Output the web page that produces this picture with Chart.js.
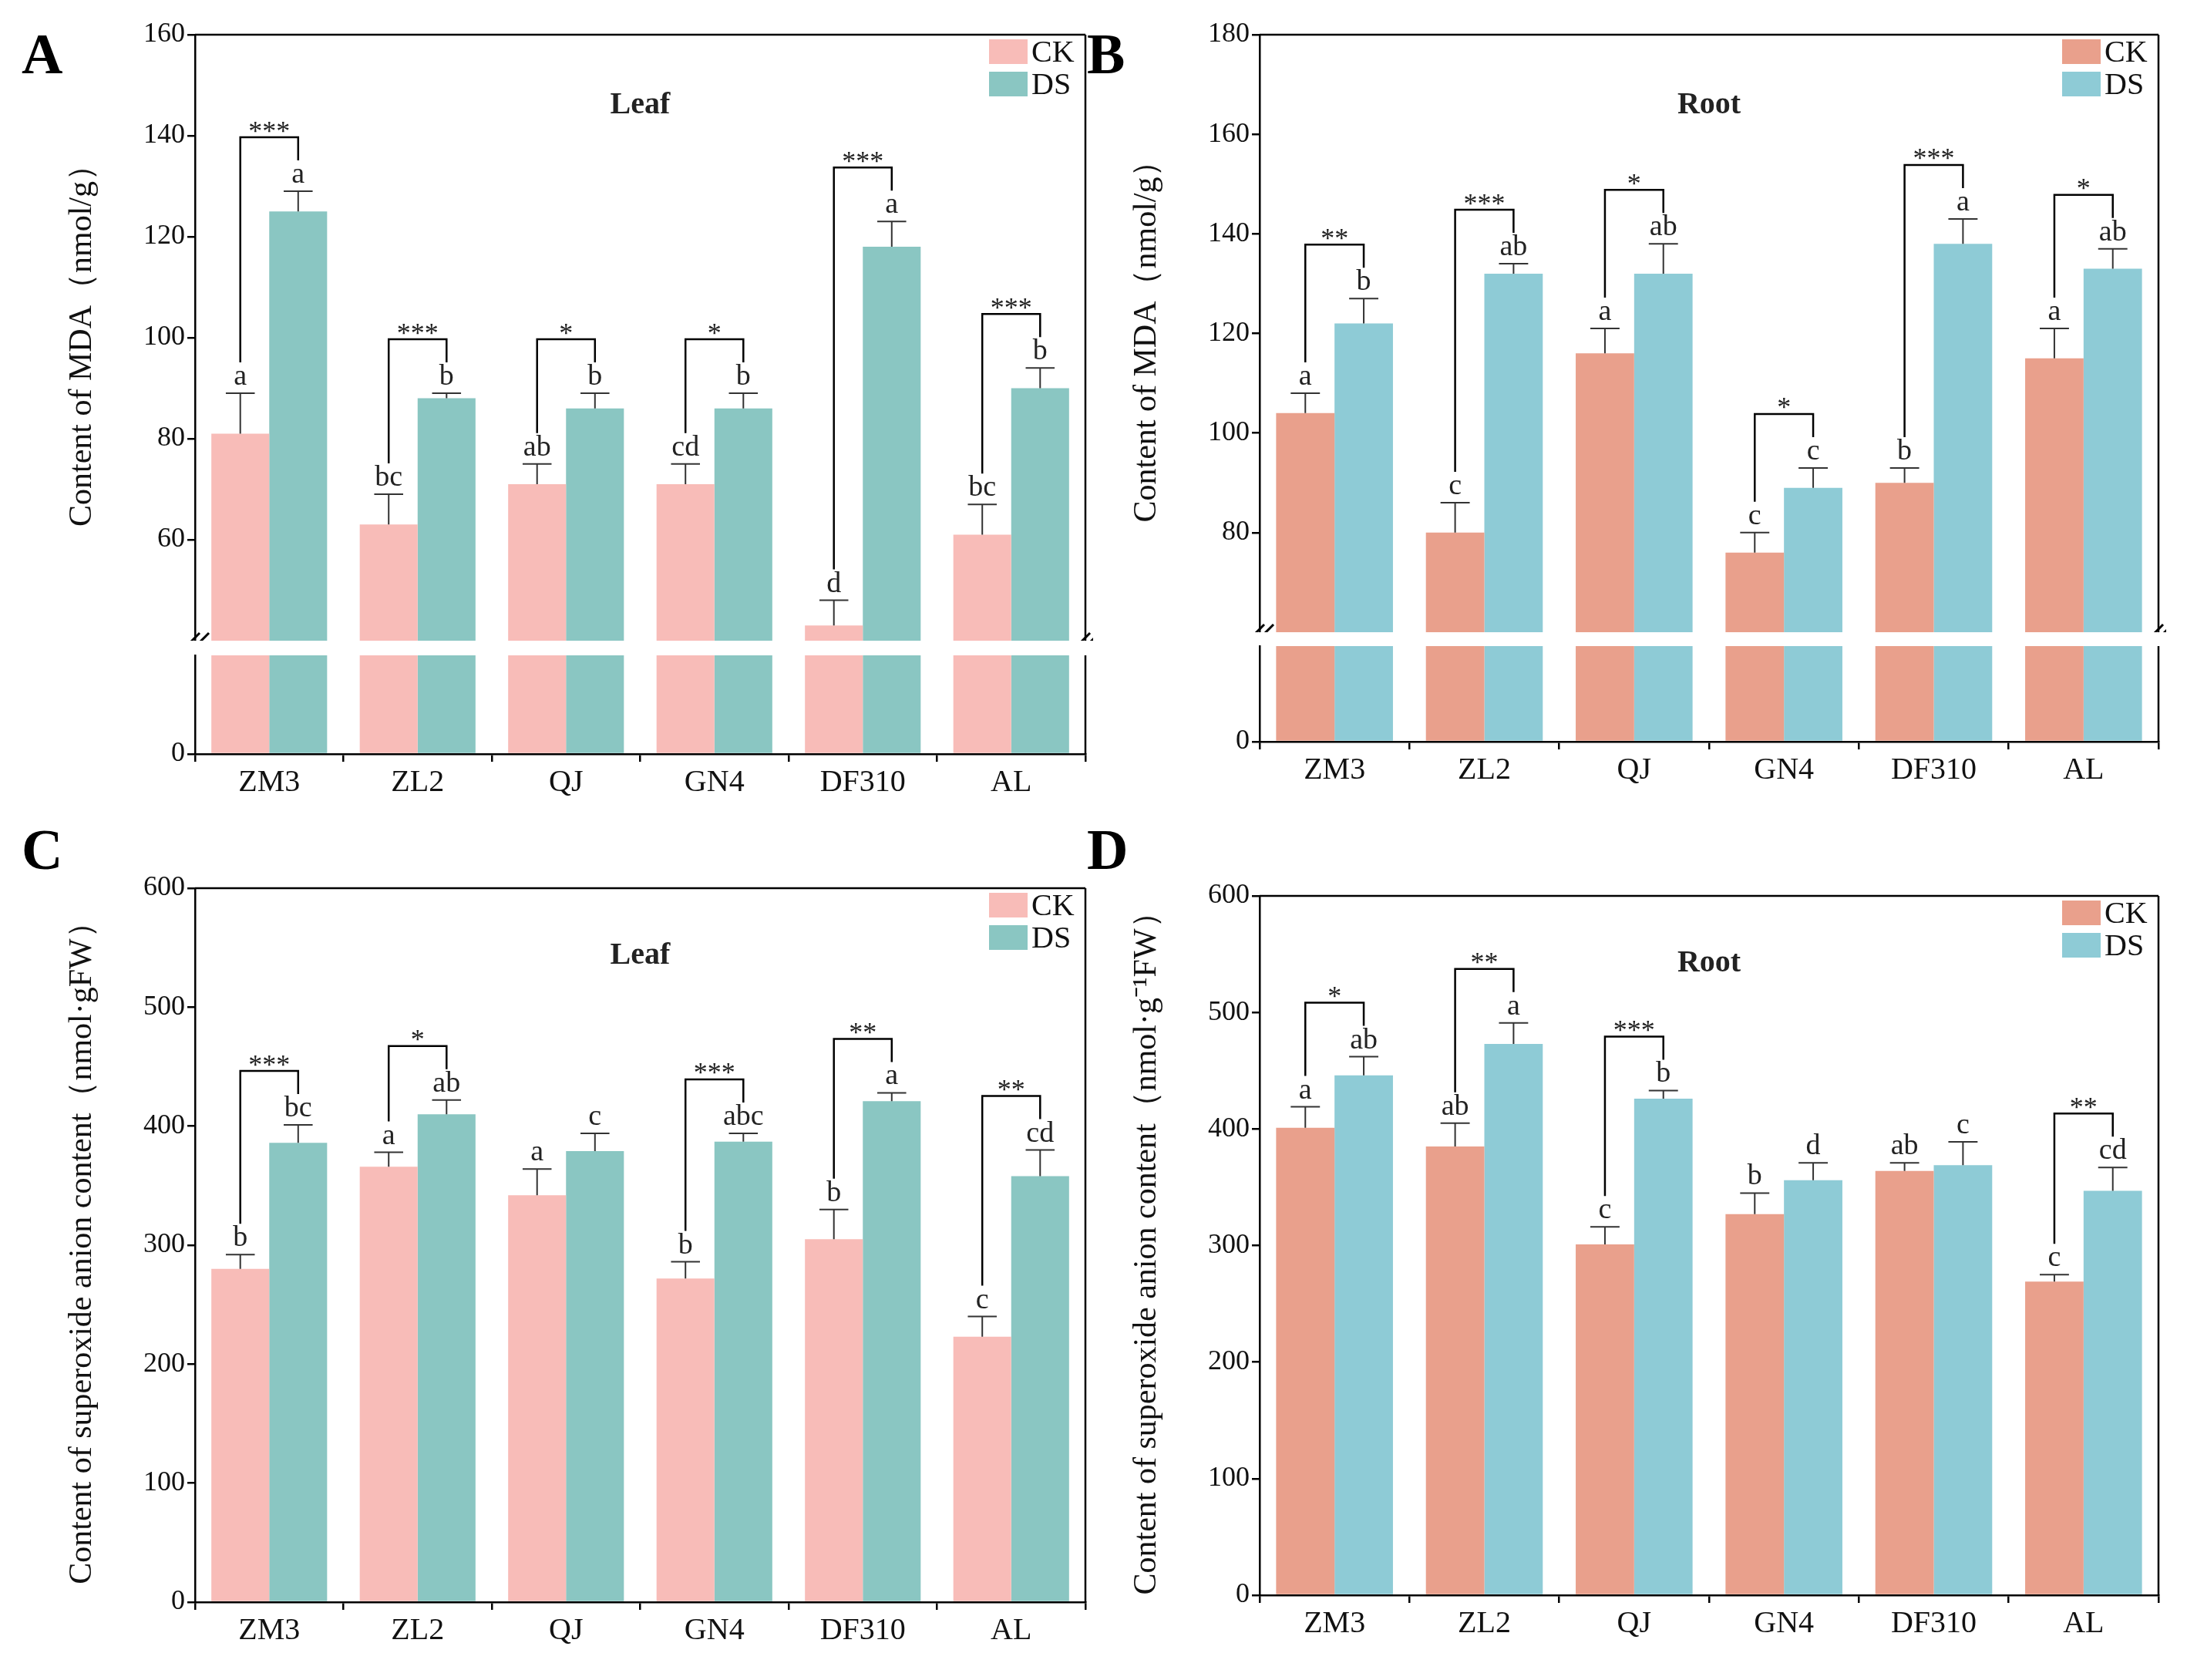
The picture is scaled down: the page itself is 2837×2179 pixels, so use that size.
<!DOCTYPE html>
<html><head><meta charset="utf-8">
<script src="https://cdn.jsdelivr.net/npm/chart.js@4"></script>
<style>
body{margin:0;background:#fff;width:2837px;height:2179px;position:relative;overflow:hidden;font-family:"Liberation Serif",serif}
canvas{position:absolute}
.lab{position:absolute;font:bold 74px "Liberation Serif",serif}
</style></head><body>
<div class="lab" style="left:28px;top:28px">A</div>
<div class="lab" style="left:1410px;top:28px">B</div>
<div class="lab" style="left:28px;top:1060px">C</div>
<div class="lab" style="left:1410px;top:1060px">D</div>
<script>
const categories = ['ZM3', 'ZL2', 'QJ', 'GN4', 'DF310', 'AL'];

// A: leaf MDA
const aCK = [81, 63, 71, 71, 43, 61];
const aDS = [125, 88, 86, 86, 118, 90];
const aCKerr = [8, 6, 4, 4, 5, 6];
const aDSerr = [4, 1, 3, 3, 5, 4];
const aCKlet = ['a', 'bc', 'ab', 'cd', 'd', 'bc'];
const aDSlet = ['a', 'b', 'b', 'b', 'a', 'b'];
const aSig = ['***', '***', '*', '*', '***', '***'];

// B: root MDA
const bCK = [104, 80, 116, 76, 90, 115];
const bDS = [122, 132, 132, 89, 138, 133];
const bCKerr = [4, 6, 5, 4, 3, 6];
const bDSerr = [5, 2, 6, 4, 5, 4];
const bCKlet = ['a', 'c', 'a', 'c', 'b', 'a'];
const bDSlet = ['b', 'ab', 'ab', 'c', 'a', 'ab'];
const bSig = ['**', '***', '*', '*', '***', '*'];

// C: leaf superoxide
const cCK = [280, 366, 342, 272, 305, 223];
const cDS = [386, 410, 379, 387, 421, 358];
const cCKerr = [12, 12, 22, 14, 25, 17];
const cDSerr = [15, 12, 15, 7, 7, 22];
const cCKlet = ['b', 'a', 'a', 'b', 'b', 'c'];
const cDSlet = ['bc', 'ab', 'c', 'abc', 'a', 'cd'];
const cSig = ['***', '*', '', '***', '**', '**'];

// D: root superoxide
const dCK = [401, 385, 301, 327, 364, 269];
const dDS = [446, 473, 426, 356, 369, 347];
const dCKerr = [18, 20, 15, 18, 7, 6];
const dDSerr = [16, 18, 7, 15, 20, 20];
const dCKlet = ['a', 'ab', 'c', 'b', 'ab', 'c'];
const dDSlet = ['ab', 'a', 'b', 'd', 'c', 'cd'];
const dSig = ['*', '**', '***', '', '', '**'];

const FONT = '"Liberation Serif", serif';
const YW = 175, XH = 62, PT = 30;

function makeChart(p) {
    const cv = document.createElement('canvas');
    // p.y/p.h describe the plot area; canvas gets extra room on top for tick labels
    const top = p.y - PT, h = p.h + PT + (p.showX ? XH : 0);
    cv.width = p.w; cv.height = h;
    cv.style.left = p.x + 'px'; cv.style.top = top + 'px';
    cv.style.width = p.w + 'px'; cv.style.height = h + 'px';
    document.body.appendChild(cv);

    const annot = {
        id: 'annot',
        afterDatasetsDraw(chart) {
            const ctx = chart.ctx, a = chart.chartArea;
            ctx.save();
            ctx.strokeStyle = '#000'; ctx.lineWidth = 2.5;
            ctx.beginPath();
            if (p.frame.includes('t')) { ctx.moveTo(a.left, a.top); ctx.lineTo(a.right, a.top); }
            ctx.moveTo(a.right, a.top); ctx.lineTo(a.right, a.bottom);
            ctx.stroke();
            if (p.breakMarks) {
                ctx.lineWidth = 3;
                [a.left, a.right].forEach(x => {
                    [-6, 6].forEach(dx => {
                        ctx.beginPath();
                        ctx.moveTo(x + dx - 12, a.bottom + 14);
                        ctx.lineTo(x + dx + 12, a.bottom - 10);
                        ctx.stroke();
                    });
                });
            }
            if (!p.annotate) { ctx.restore(); return; }
            const ys = chart.scales.y;
            const m0 = chart.getDatasetMeta(0), m1 = chart.getDatasetMeta(1);
            ctx.fillStyle = '#222'; ctx.strokeStyle = '#333'; ctx.lineWidth = 2;
            ctx.font = '38px ' + FONT; ctx.textAlign = 'center'; ctx.textBaseline = 'bottom';
            const legTop = [[], []];
            [[m0, p.ck, p.ckErr, p.ckLet], [m1, p.ds, p.dsErr, p.dsLet]].forEach(([m, v, e, l], k) => {
                m.data.forEach((bar, i) => {
                    const x = bar.x, yt = ys.getPixelForValue(v[i] + e[i]);
                    const half = bar.width / 4;
                    ctx.beginPath();
                    ctx.moveTo(x, ys.getPixelForValue(v[i])); ctx.lineTo(x, yt);
                    ctx.moveTo(x - half, yt); ctx.lineTo(x + half, yt);
                    ctx.stroke();
                    ctx.fillText(l[i], x, yt - 2);
                    legTop[k][i] = yt - 40;
                });
            });
            ctx.lineWidth = 2.5; ctx.strokeStyle = '#000';
            ctx.font = '36px ' + FONT;
            p.sig.forEach((s, i) => {
                if (!s) return;
                const x0 = m0.data[i].x, x1 = m1.data[i].x;
                const t = Math.min(legTop[0][i], legTop[1][i]) - 30;
                ctx.beginPath();
                ctx.moveTo(x0, legTop[0][i]); ctx.lineTo(x0, t);
                ctx.lineTo(x1, t); ctx.lineTo(x1, legTop[1][i]);
                ctx.stroke();
                ctx.fillText(s, (x0 + x1) / 2, t + 12);
            });
            ctx.font = 'bold 40px ' + FONT; ctx.textBaseline = 'middle';
            ctx.fillText(p.title, (a.left + a.right) / 2, a.top + p.titleY);
            ctx.font = '40px ' + FONT; ctx.textAlign = 'left';
            [[p.colors[0], 'CK'], [p.colors[1], 'DS']].forEach(([c, t], k) => {
                const yy = a.top + 22 + k * 42;
                ctx.fillStyle = c;
                ctx.fillRect(a.right - 125, yy - 16, 50, 32);
                ctx.fillStyle = '#111';
                ctx.fillText(t, a.right - 70, yy + 2);
            });
            ctx.restore();
        }
    };

    new Chart(cv, {
        type: 'bar',
        data: {
            labels: categories,
            datasets: [
                { label: 'CK', data: p.ck, backgroundColor: p.colors[0], categoryPercentage: 0.78, barPercentage: 1 },
                { label: 'DS', data: p.ds, backgroundColor: p.colors[1], categoryPercentage: 0.78, barPercentage: 1 }
            ]
        },
        options: {
            responsive: false, animation: false, devicePixelRatio: 1,
            layout: { padding: { right: 10, top: PT, left: 0, bottom: 0 } },
            plugins: { legend: { display: false }, tooltip: { enabled: false } },
            scales: {
                x: {
                    display: p.showX,
                    grid: { drawOnChartArea: false, tickLength: 10, color: '#000', lineWidth: 2.5 },
                    border: { color: '#000', width: 2.5 },
                    ticks: { color: '#111', font: { family: FONT, size: 40 } },
                    afterFit(s) { if (p.showX) s.height = XH; s.paddingLeft = 0; s.paddingRight = 0; }
                },
                y: {
                    min: p.min, max: p.max,
                    grid: { drawOnChartArea: false, tickLength: 10, color: '#000', lineWidth: 2.5 },
                    border: { color: '#000', width: 2.5 },
                    ticks: { color: '#111', stepSize: p.step, font: { family: FONT, size: 36 } },
                    afterBuildTicks(s) { if (p.tickMin !== undefined) s.ticks = s.ticks.filter(t => t.value >= p.tickMin && t.value <= p.tickMax); },
                    title: { display: !!p.yTitle, text: p.yTitle, color: '#111', font: { family: FONT, size: 42 }, padding: { bottom: 6 } },
                    afterFit(s) { s.width = YW; s.paddingTop = 0; s.paddingBottom = 0; }
                }
            }
        },
        plugins: [annot]
    });
}

const colA = ['#f8bcb8', '#8ac6c2'];
const colB = ['#e9a08c', '#8ecbd6'];

// A upper and lower
makeChart({ x: 253 - YW, y: 45, w: 1408 - 253 + YW + 10, h: 831 - 45, showX: false, min: 40, max: 160, step: 20, tickMin: 60, tickMax: 160,
    yTitle: 'Content of MDA（nmol/g）', frame: 't', breakMarks: true, annotate: true,
    ck: aCK, ds: aDS, ckErr: aCKerr, dsErr: aDSerr, ckLet: aCKlet, dsLet: aDSlet, sig: aSig, title: 'Leaf', titleY: 92, colors: colA });
makeChart({ x: 253 - YW, y: 850, w: 1408 - 253 + YW + 10, h: 978 - 850, showX: true, min: 0, max: 20, step: 20, tickMin: 0, tickMax: 0,
    frame: '', ck: aCK, ds: aDS, colors: colA });

// B
makeChart({ x: 1634 - YW, y: 45, w: 2800 - 1634 + YW + 10, h: 820 - 45, showX: false, min: 60, max: 180, step: 20, tickMin: 80, tickMax: 180,
    yTitle: 'Content of MDA（nmol/g）', frame: 't', breakMarks: true, annotate: true,
    ck: bCK, ds: bDS, ckErr: bCKerr, dsErr: bDSerr, ckLet: bCKlet, dsLet: bDSlet, sig: bSig, title: 'Root', titleY: 92, colors: colB });
makeChart({ x: 1634 - YW, y: 838, w: 2800 - 1634 + YW + 10, h: 962 - 838, showX: true, min: 0, max: 20, step: 20, tickMin: 0, tickMax: 0,
    frame: '', ck: bCK, ds: bDS, colors: colB });

// C
makeChart({ x: 253 - YW, y: 1152, w: 1408 - 253 + YW + 10, h: 2078 - 1152, showX: true, min: 0, max: 600, step: 100,
    yTitle: 'Content of superoxide anion content（nmol·gFW）', frame: 't', annotate: true,
    ck: cCK, ds: cDS, ckErr: cCKerr, dsErr: cDSerr, ckLet: cCKlet, dsLet: cDSlet, sig: cSig, title: 'Leaf', titleY: 88, colors: colA });

// D
makeChart({ x: 1634 - YW, y: 1162, w: 2800 - 1634 + YW + 10, h: 2069 - 1162, showX: true, min: 0, max: 600, step: 100,
    yTitle: 'Content of superoxide anion content（nmol·g⁻¹FW）', frame: 't', annotate: true,
    ck: dCK, ds: dDS, ckErr: dCKerr, dsErr: dDSerr, ckLet: dCKlet, dsLet: dDSlet, sig: dSig, title: 'Root', titleY: 88, colors: colB });
</script>
</body></html>
